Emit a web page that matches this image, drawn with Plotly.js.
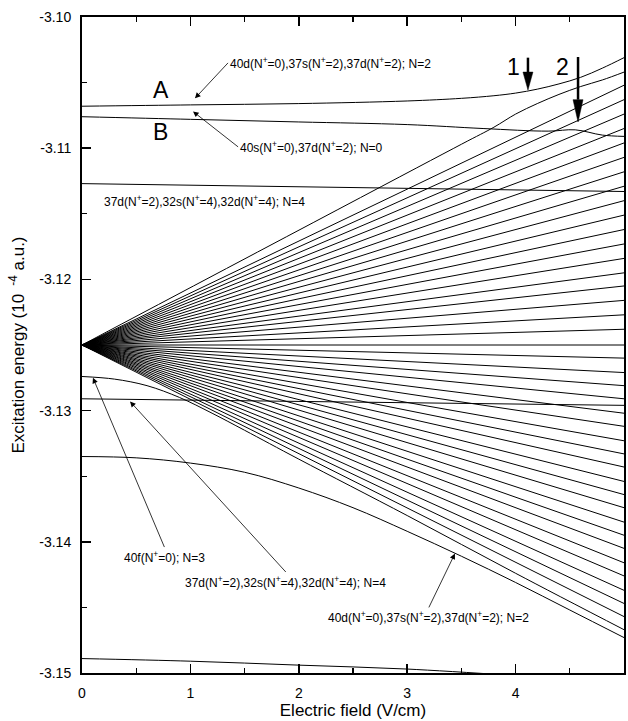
<!DOCTYPE html>
<html>
<head>
<meta charset="utf-8">
<script src="https://cdn.plot.ly/plotly-3.0.1.min.js"></script>
<style>html,body{margin:0;padding:0;background:#fff;}#chart{width:628px;height:721px;}</style>
</head>
<body>
<div id="chart"></div>
<script>
// ---- data ----
const fieldRange = [0, 5];                 // electric field (V/cm)
const fanOrigin = -3.125;                  // common zero-field energy of the Stark manifold
const fanEndEnergies = [                   // energy of each straight manifold line at 5 V/cm
  -3.1052, -3.1063, -3.1074, -3.1085, -3.1096, -3.1107, -3.1118, -3.1129, -3.1140, -3.1151,
  -3.1162, -3.1173, -3.1184, -3.1195, -3.1205, -3.1216, -3.1227, -3.1238, -3.1250,
  -3.1260, -3.1271, -3.1281, -3.1291, -3.1302, -3.1312, -3.1323, -3.1333, -3.1343, -3.1354,
  -3.1364, -3.1374, -3.1385, -3.1395, -3.1405, -3.1416, -3.1426, -3.1437, -3.1447, -3.1457
];
const topFanX = [0, 3.5, 3.8, 4.0, 4.2, 4.4, 4.6, 4.8, 5];
const topFanY = [-3.125, -3.1097, -3.1084, -3.1074, -3.1066, -3.1059, -3.1053, -3.1048, -3.1042];
const stateAX = [0, 1, 2, 3, 3.5, 3.8, 4.0, 4.2, 4.4, 4.6, 4.8, 5];
const stateAY = [-3.1068, -3.1067, -3.1066, -3.1064, -3.1062, -3.1060, -3.1058, -3.1055, -3.1051, -3.1046, -3.1039, -3.1031];
const stateBX = [0, 1, 2, 3, 3.7, 4.3, 4.55, 4.8, 5];
const stateBY = [-3.1076, -3.1078, -3.1080, -3.1082, -3.1085, -3.1087, -3.1086, -3.1090, -3.1091];
const upperN4X = [0, 5];
const upperN4Y = [-3.1127, -3.1133];
const lowerN4X = [0, 5];
const lowerN4Y = [-3.1291, -3.1296];
const state40fX = [0, 0.3, 0.6, 0.9, 1.2, 1.5, 2, 3, 4, 5];
const state40fY = [-3.1274, -3.1276, -3.1281, -3.1290, -3.1302, -3.1315, -3.1337, -3.1380, -3.1424, -3.1467];
const lowN2X = [0, 0.5, 1.0, 1.5, 2.0, 2.5, 3.0, 3.5, 4.0, 4.5, 5];
const lowN2Y = [-3.1335, -3.1336, -3.1340, -3.1347, -3.1359, -3.1374, -3.1392, -3.1411, -3.1431, -3.1452, -3.1473];
const bottomX = [0, 1, 2, 3, 4];
const bottomY = [-3.1489, -3.1491, -3.1494, -3.1497, -3.1502];
const xTickVals = [0, 1, 2, 3, 4, 5];
const xTickText = ['0', '1', '2', '3', '4', '5'];
const yTickVals = [-3.15, -3.14, -3.13, -3.12, -3.11, -3.10];
const yTickText = ['-3.15', '-3.14', '-3.13', '-3.12', '-3.11', '-3.10'];

// ---- traces ----
const lineStyle = {color: '#000', width: 1};
const traces = [];
fanEndEnergies.forEach(e => {
  traces.push({x: fieldRange, y: [fanOrigin, e], mode: 'lines', line: lineStyle, hoverinfo: 'skip'});
});
function curve(xs, ys, smooth) {
  traces.push({x: xs, y: ys, mode: 'lines',
    line: Object.assign({}, lineStyle, smooth ? {shape: 'spline', smoothing: 1} : {}), hoverinfo: 'skip'});
}
curve(topFanX, topFanY, true);
curve(stateAX, stateAY, true);
curve(stateBX, stateBY, true);
curve(upperN4X, upperN4Y, false);
curve(lowerN4X, lowerN4Y, false);
curve(state40fX, state40fY, true);
curve(lowN2X, lowN2Y, true);
curve(bottomX, bottomY, true);

const FONT = 'Liberation Sans, Arial, Helvetica, sans-serif';
const sp = '<sup>+</sup>';
const txtFont = {family: FONT, size: 12, color: '#000'};
function label(x, y, text, size) {
  return {x: x, y: y, xref: 'x', yref: 'y', text: text, showarrow: false, xanchor: 'left', yanchor: 'middle',
    font: {family: FONT, size: size || 12, color: '#000'}};
}
// label with a pointer: tail (ax, ay) sits on the text box edge given by the anchors
function pointed(text, tipX, tipY, tailX, tailY, xanchor, yanchor) {
  return {x: tipX, y: tipY, ax: tailX, ay: tailY, xref: 'x', yref: 'y', axref: 'x', ayref: 'y',
    text: text, xanchor: xanchor, yanchor: yanchor, font: txtFont,
    showarrow: true, arrowhead: 2, arrowsize: 1.4, arrowwidth: 0.8, arrowcolor: '#000', standoff: 0, startstandoff: 0};
}
const annotations = [
  pointed('40d(N' + sp + '=0),37s(N' + sp + '=2),37d(N' + sp + '=2); N=2', 1.042, -3.1062, 1.347, -3.1035, 'left', 'middle'),
  label(0.64, -3.1056, 'A', 23),
  label(0.64, -3.1088, 'B', 23),
  pointed('40s(N' + sp + '=0),37d(N' + sp + '=2); N=0', 1.024, -3.1072, 1.44, -3.1099, 'left', 'middle'),
  label(0.185, -3.1140, '37d(N' + sp + '=2),32s(N' + sp + '=4),32d(N' + sp + '=4); N=4'),
  pointed('40f(N' + sp + '=0); N=3', 0.101, -3.1275, 0.76, -3.1404, 'center', 'top'),
  pointed('37d(N' + sp + '=2),32s(N' + sp + '=4),32d(N' + sp + '=4); N=4', 0.443, -3.1293, 1.88, -3.1423, 'center', 'top'),
  pointed('40d(N' + sp + '=0),37s(N' + sp + '=2),37d(N' + sp + '=2); N=2', 3.44, -3.1409, 3.20, -3.1450, 'center', 'top'),
  {x: 3.98, y: -3.1038, xref: 'x', yref: 'y', text: '1', showarrow: false, font: {family: FONT, size: 23, color: '#000'}},
  {x: 4.43, y: -3.1038, xref: 'x', yref: 'y', text: '2', showarrow: false, font: {family: FONT, size: 23, color: '#000'}}
];

// big vertical arrows 1 and 2
const shapes = [
  {type: 'line', xref: 'x', yref: 'y', x0: 4.114, x1: 4.114, y0: -3.1031, y1: -3.1042, line: {color: '#000', width: 2.5}},
  {type: 'path', xref: 'x', yref: 'y', path: 'M4.068,-3.1042 L4.160,-3.1042 L4.114,-3.10556 Z', fillcolor: '#000', line: {color: '#000', width: 0.5}},
  {type: 'line', xref: 'x', yref: 'y', x0: 4.576, x1: 4.576, y0: -3.10305, y1: -3.1063, line: {color: '#000', width: 2.5}},
  {type: 'path', xref: 'x', yref: 'y', path: 'M4.530,-3.1063 L4.622,-3.1063 L4.576,-3.1080 Z', fillcolor: '#000', line: {color: '#000', width: 0.5}}
];

const layout = {
  width: 628, height: 721,
  margin: {l: 82, r: 4, t: 17, b: 48, pad: 0},
  paper_bgcolor: '#fff', plot_bgcolor: '#fff',
  showlegend: false,
  font: {family: FONT, color: '#000'},
  xaxis: {
    range: [0, 5], tickvals: xTickVals, ticktext: xTickText,
    ticks: 'inside', ticklen: 9, tickwidth: 1.5, tickcolor: '#000',
    minor: {dtick: 0.5, tick0: 0, ticks: 'inside', ticklen: 5, tickwidth: 1.2, tickcolor: '#000'},
    showline: true, linewidth: 2, linecolor: '#000', mirror: 'ticks',
    showgrid: false, zeroline: false,
    tickfont: {family: FONT, size: 14, color: '#000'}, ticklabelstandoff: 6,
    title: {text: 'Electric field (V/cm)', font: {family: FONT, size: 17, color: '#000'}, standoff: 4}
  },
  yaxis: {
    range: [-3.15, -3.10], tickvals: yTickVals, ticktext: yTickText,
    ticks: 'inside', ticklen: 9, tickwidth: 1.5, tickcolor: '#000',
    minor: {dtick: 0.005, tick0: -3.15, ticks: 'inside', ticklen: 5, tickwidth: 1.2, tickcolor: '#000'},
    showline: true, linewidth: 2, linecolor: '#000', mirror: true,
    showgrid: false, zeroline: false,
    tickfont: {family: FONT, size: 14, color: '#000'}, ticklabelstandoff: 6,
    title: {text: 'Excitation energy (10 <sup> -4</sup> a.u.)', font: {family: FONT, size: 17, color: '#000'}, standoff: 10}
  },
  annotations: annotations,
  shapes: shapes
};

Plotly.newPlot('chart', traces, layout, {staticPlot: true, displayModeBar: false});
</script>
</body>
</html>
